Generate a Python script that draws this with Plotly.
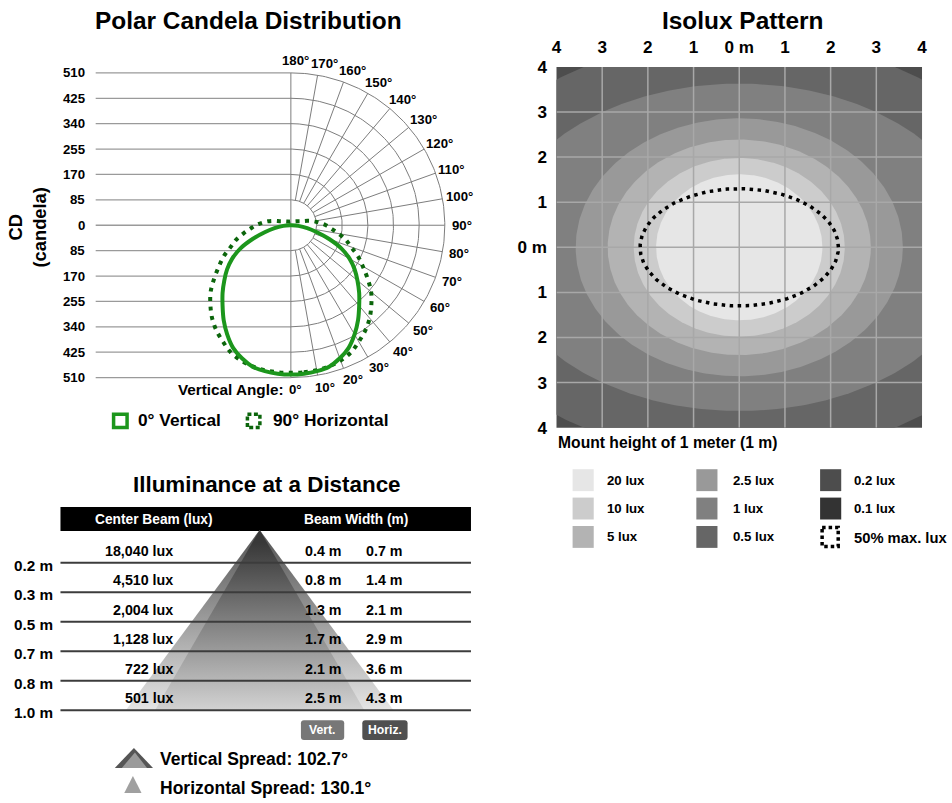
import numpy as np
import plotly.graph_objects as go

W, H = 952, 803
FONT = "Liberation Sans, Arial, Helvetica, sans-serif"

# ===================== DATA =====================
# --- Polar candela distribution ---
polar_angles = list(range(0, 181, 5))
cd_vertical = [500, 499, 496, 490, 474, 453, 422, 388, 352, 320, 288, 258, 225, 185, 135, 88, 55, 25, 3,
               0, 0, 0, 0, 0, 0, 0, 0, 0, 0, 0, 0, 0, 0, 0, 0, 0, 0]
cd_horizontal = [494, 494, 493, 489, 482, 470, 450, 430, 406, 377, 347, 310, 275, 245, 212, 188, 160, 135, 116,
                 95, 77, 57, 40, 32, 27, 23, 20, 18, 16, 15, 14, 13, 13, 13, 13, 13, 13]
cd_rings = [85, 170, 255, 340, 425, 510]
cd_tick_values = [510, 425, 340, 255, 170, 85, 0, -85, -170, -255, -340, -425, -510]
cd_tick_labels = ["510", "425", "340", "255", "170", "85", "0", "85", "170", "255", "340", "425", "510"]
angle_label_values = list(range(0, 181, 10))
polar_series = ["0° Vertical", "90° Horizontal"]

# --- Illuminance at a distance ---
distances = ["0.2 m", "0.3 m", "0.5 m", "0.7 m", "0.8 m", "1.0 m"]
center_lux = [18040, 4510, 2004, 1128, 722, 501]
beam_vert = [0.4, 0.8, 1.3, 1.7, 2.1, 2.5]
beam_horiz = [0.7, 1.4, 2.1, 2.9, 3.6, 4.3]
vertical_spread = 102.7
horizontal_spread = 130.1

# --- Isolux pattern (contour boundaries, metres) ---
iso_levels = [0.2, 0.5, 1, 2.5, 5, 10, 20]
iso_colors = ["#4d4d4d", "#666666", "#808080", "#999999", "#b3b3b3", "#cccccc", "#e6e6e6"]
iso_half_x = [9.0, 6.64, 5.31, 3.58, 2.88, 2.31, 1.82]
iso_half_y = [7.0, 4.66, 3.63, 2.86, 2.39, 1.98, 1.62]
half_max_x, half_max_y = 2.17, 1.30
iso_ticks = [-4, -3, -2, -1, 0, 1, 2, 3, 4]
iso_ticktext = ["4", "3", "2", "1", "0 m", "1", "2", "3", "4"]
legend_levels = ["20 lux", "10 lux", "5 lux", "2.5 lux", "1 lux", "0.5 lux", "0.2 lux", "0.1 lux"]
legend_colors = ["#e6e6e6", "#cccccc", "#b3b3b3", "#999999", "#808080", "#666666", "#4d4d4d", "#333333"]

# ===================== LAYOUT HELPERS =====================
# The capture adds an 8px frame and rescales, so layout positions are given in
# target-picture pixels and mapped back to figure pixels here.
SX, SY, OFF = 952 / 968, 803 / 819, 8
K = 1 / 0.982          # font / width compensation


def DX(x):
    return (x / SX - OFF) / W


def DY(y):
    return 1 - (y / SY - OFF) / H


PCX, PCY, PS = 292, 225, 0.3   # polar centre (px) and px per candela
GREEN = "#1c961c"
DGREEN = "#0b650b"

fig = go.Figure()
annotations = []
shapes = []


def txt(x, y, s, size, xanchor="center", color="black", xref="x", yref="y", bold=True, **kw):
    annotations.append(dict(x=x, y=y, xref=xref, yref=yref, text=(f"<b>{s}</b>" if bold else s),
                            showarrow=False, xanchor=xanchor, yanchor="middle",
                            font=dict(size=size * K, color=color, family=FONT), **kw))


# ===================== POLAR =====================
th = np.radians(polar_angles)


def polar_loop(r):
    r = np.asarray(r, float)
    xr = r * np.sin(th)
    yr = -r * np.cos(th)
    return np.r_[xr, -xr[::-1]], np.r_[yr, yr[::-1]]


R = max(cd_rings)
left_x = (98 - PCX) / PS
hx, hy = [], []
for v in cd_tick_values:
    hx += [left_x, 0, None]
    hy += [v, v, None]
fig.add_trace(go.Scatter(x=hx, y=hy, mode="lines", line=dict(color="#9a9a9a", width=1.3),
                         xaxis="x2", yaxis="y2", hoverinfo="skip"))

gx, gy = [], []
tt = np.radians(np.linspace(0, 180, 181))
for r in cd_rings:
    gx += list(r * np.sin(tt)) + [None]
    gy += list(-r * np.cos(tt)) + [None]
for a in range(10, 180, 10):
    ar = np.radians(a)
    gx += [cd_rings[0] * np.sin(ar), R * np.sin(ar), None]
    gy += [-cd_rings[0] * np.cos(ar), -R * np.cos(ar), None]
gx += [0, 0, None]
gy += [-R, R, None]
fig.add_trace(go.Scatter(x=gx, y=gy, mode="lines", line=dict(color="#7d7d7d", width=1),
                         xaxis="x2", yaxis="y2", hoverinfo="skip"))

vx, vy = polar_loop(cd_vertical)
hx2, hy2 = polar_loop(cd_horizontal)
fig.add_trace(go.Scatter(x=hx2, y=hy2, mode="lines",
                         line=dict(color=DGREEN, width=4, dash="4px,5.5px", shape="spline", smoothing=1),
                         xaxis="x2", yaxis="y2", name=polar_series[1], hoverinfo="skip"))
fig.add_trace(go.Scatter(x=vx, y=vy, mode="lines",
                         line=dict(color=GREEN, width=4, shape="spline", smoothing=1),
                         xaxis="x2", yaxis="y2", name=polar_series[0], hoverinfo="skip"))

for v, lab in zip(cd_tick_values, cd_tick_labels):
    txt((89 - PCX) / PS, v, lab, 13, xanchor="right", xref="x2", yref="y2")
for a in angle_label_values:
    ar = np.radians(a)
    txt(550 * np.sin(ar), -550 * np.cos(ar), f"{a}°", 13, xref="x2", yref="y2", xshift=5 * K)

txt(250, 19, "Polar Candela Distribution", 24)
txt(286, 390, "Vertical Angle:", 15, xanchor="right")
txt(30, 227, "CD<br>(candela)", 18, textangle=-90)

# polar legend
shapes.append(dict(type="rect", xref="x", yref="y", x0=115.8, x1=129.2, y0=414.8, y1=428.2,
                   line=dict(color=GREEN, width=3.5), fillcolor="rgba(0,0,0,0)", layer="above"))
txt(138, 421, polar_series[0], 17, xanchor="left")
shapes.append(dict(type="rect", xref="x", yref="y", x0=248.8, x1=261.2, y0=414.8, y1=428.2,
                   line=dict(color=DGREEN, width=3.5, dash="4px,2.5px"), fillcolor="rgba(0,0,0,0)",
                   layer="above"))
txt(272, 421, polar_series[1], 17, xanchor="left")

# ===================== ILLUMINANCE TABLE =====================
TX0, TX1 = 63, 471
APX, APY = 261, 531
line_y = [564 + i * 29.6 for i in range(len(distances))]
BASE = line_y[-1]

shapes.append(dict(type="rect", xref="x", yref="y", x0=TX0, x1=TX1, y0=508, y1=532,
                   fillcolor="black", line=dict(width=0), layer="below"))
txt(156, 520, "Center Beam (lux)", 13.5, color="white")
txt(357, 520, "Beam Width (m)", 13.5, color="white")

# beam triangles (wide = horizontal spread, narrow = vertical spread)
for half, cs in [(133, [[0, "#5c5c5c"], [0.5, "#a8a8a8"], [1, "#f3f3f3"]]),
                 (104, [[0, "#383838"], [0.5, "#8c8c8c"], [1, "#e2e2e2"]])]:
    fig.add_trace(go.Scatter(x=[APX, APX - half, APX + half, APX], y=[APY, BASE, BASE, APY],
                             mode="lines", fill="toself", line=dict(width=0),
                             fillgradient=dict(type="vertical", colorscale=cs, start=APY, stop=BASE),
                             xaxis="x", yaxis="y", hoverinfo="skip"))

for i, ly in enumerate(line_y):
    shapes.append(dict(type="line", xref="x", yref="y", x0=TX0, x1=TX1, y0=ly, y1=ly,
                       line=dict(color="#3c3c3c", width=2), layer="above"))
    txt(15, ly + 2.5, distances[i], 15, xanchor="left")
    ry = ly - 12
    txt(177, ry, f"{center_lux[i]:,} lux", 14, xanchor="right")
    txt(304, ry, f"{beam_vert[i]:.1f} m", 14, xanchor="left")
    txt(365, ry, f"{beam_horiz[i]:.1f} m", 14, xanchor="left")

txt(268, 485, "Illuminance at a Distance", 22)


def rrect(x0, y0, x1, y1, r, color):
    p = (f"M {x0+r} {y0} L {x1-r} {y0} Q {x1} {y0} {x1} {y0+r} L {x1} {y1-r} Q {x1} {y1} {x1-r} {y1} "
         f"L {x0+r} {y1} Q {x0} {y1} {x0} {y1-r} L {x0} {y0+r} Q {x0} {y0} {x0+r} {y0} Z")
    shapes.append(dict(type="path", xref="x", yref="y", path=p, fillcolor=color,
                       line=dict(width=0), layer="above"))


rrect(302, 722, 345, 742, 3, "#777777")
txt(323.5, 732, "Vert.", 12, color="white")
rrect(363, 722, 408, 742, 3, "#505050")
txt(385.5, 732, "Horiz.", 12, color="white")

shapes.append(dict(type="path", xref="x", yref="y", path="M 117 770 L 136 750 L 155 770 Z",
                   fillcolor="#555555", line=dict(width=0), layer="above"))
shapes.append(dict(type="path", xref="x", yref="y", path="M 124 770 L 137 754.5 L 149 770 Z",
                   fillcolor="#9a9a9a", line=dict(width=0), layer="above"))
txt(160, 761, f"Vertical Spread: {vertical_spread}°", 17.2, xanchor="left")
shapes.append(dict(type="path", xref="x", yref="y", path="M 125 798 L 135 778 L 145 798 Z",
                   fillcolor="#a0a0a0", line=dict(width=0), layer="above"))
txt(160, 790, f"Horizontal Spread: {horizontal_spread}°", 17.2, xanchor="left")

# ===================== ISOLUX =====================
t = np.linspace(0, 2 * np.pi, 361)
for lvl, col, a, b in zip(iso_levels, iso_colors, iso_half_x, iso_half_y):
    fig.add_trace(go.Scatter(x=a * np.cos(t), y=b * np.sin(t), mode="lines", fill="toself",
                             fillcolor=col, line=dict(width=0), xaxis="x3", yaxis="y3",
                             name=f"{lvl} lux", hoverinfo="skip"))
igx, igy = [], []
for v in iso_ticks[1:-1]:
    igx += [v, v, None, -4, 4, None]
    igy += [-4, 4, None, v, v, None]
fig.add_trace(go.Scatter(x=igx, y=igy, mode="lines", line=dict(color="#a8a8a8", width=1.5),
                         xaxis="x3", yaxis="y3", hoverinfo="skip"))
fig.add_trace(go.Scatter(x=half_max_x * np.cos(t), y=half_max_y * np.sin(t), mode="lines",
                         line=dict(color="black", width=3.5, dash="3.5px,4.5px"),
                         xaxis="x3", yaxis="y3", hoverinfo="skip"))

txt(741, 19, "Isolux Pattern", 24)
txt(556, 443, "Mount height of 1 meter (1 m)", 15.4, xanchor="left")

col_sq = [572, 695, 818]
col_tx = [604, 729, 850]
row_y = [481, 509.5, 538]
for k, (lab, col) in enumerate(zip(legend_levels, legend_colors)):
    c, r = divmod(k, 3)
    shapes.append(dict(type="rect", xref="x", yref="y", x0=col_sq[c], x1=col_sq[c] + 21,
                       y0=row_y[r] - 11, y1=row_y[r] + 11, fillcolor=col, line=dict(width=0),
                       layer="above"))
    txt(col_tx[c], row_y[r], lab, 13, xanchor="left")
shapes.append(dict(type="rect", xref="x", yref="y", x0=820, x1=836, y0=row_y[2] - 9.5, y1=row_y[2] + 9.5,
                   line=dict(color="black", width=3.5, dash="3.5px,3px"), fillcolor="rgba(0,0,0,0)",
                   layer="above"))
txt(850, row_y[2] + 1, "50% max. lux", 14.5, xanchor="left")

# ===================== AXES / LAYOUT =====================
hidden = dict(visible=False, fixedrange=True, showgrid=False, zeroline=False)
iso_tick_text = [f"<b>{s}</b>" for s in iso_ticktext]

fig.update_layout(
    width=W, height=H, margin=dict(l=0, r=0, t=0, b=0),
    paper_bgcolor="white", plot_bgcolor="rgba(0,0,0,0)",
    showlegend=False, font=dict(family=FONT, color="black"),
    xaxis=dict(domain=[0, 1], range=[SX * OFF, SX * (W + OFF)], anchor="y", **hidden),
    yaxis=dict(domain=[0, 1], range=[SY * (H + OFF), SY * OFF], anchor="x", **hidden),
    xaxis2=dict(domain=[DX(40), DX(500)], range=[(40 - PCX) / PS, (500 - PCX) / PS], anchor="y2", **hidden),
    yaxis2=dict(domain=[DY(410), DY(40)], range=[(PCY - 410) / PS, (PCY - 40) / PS], anchor="x2", **hidden),
    xaxis3=dict(domain=[DX(556), DX(919.3)], range=[-4, 4], anchor="y3", side="top",
                tickmode="array", tickvals=iso_ticks, ticktext=iso_tick_text,
                showgrid=False, zeroline=False, showline=False, fixedrange=True,
                ticks="outside", ticklen=6, tickcolor="rgba(0,0,0,0)",
                tickfont=dict(size=16.8 * K, color="black", family=FONT)),
    yaxis3=dict(domain=[DY(428.3), DY(66)], range=[-4, 4], anchor="x3",
                tickmode="array", tickvals=iso_ticks, ticktext=iso_tick_text,
                showgrid=False, zeroline=False, showline=False, fixedrange=True,
                ticks="outside", ticklen=5, tickcolor="rgba(0,0,0,0)",
                tickfont=dict(size=16.8 * K, color="black", family=FONT)),
    annotations=annotations, shapes=shapes, dragmode=False,
)

fig.write_html(
    "out.html",
    config={"displayModeBar": False, "staticPlot": True},
    post_script=("document.documentElement.style.margin='0';document.body.style.margin='0';"
                 "document.body.style.padding='0';document.body.style.overflow='hidden';"),
)
